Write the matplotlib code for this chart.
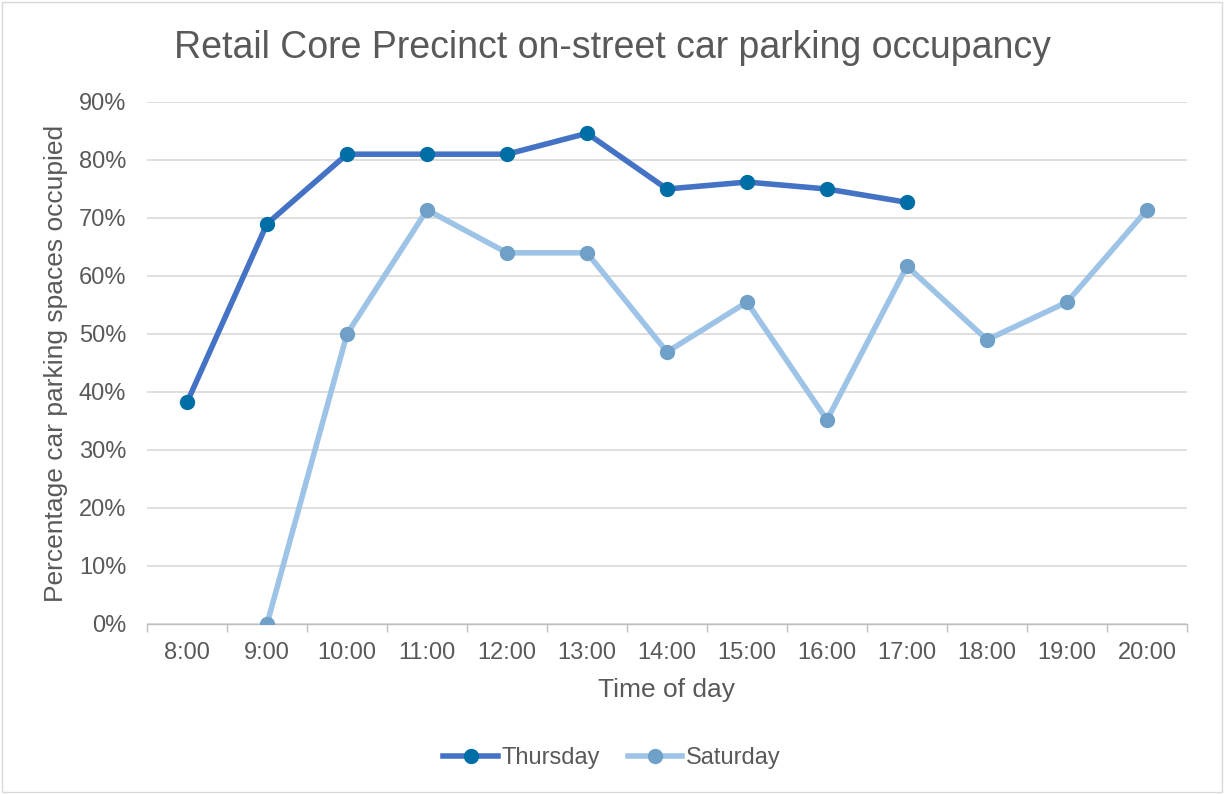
import matplotlib
matplotlib.use("Agg")
import matplotlib.pyplot as plt
from matplotlib.ticker import FuncFormatter, FixedLocator
import matplotlib.patches as mpatches

times = ["8:00", "9:00", "10:00", "11:00", "12:00", "13:00", "14:00",
         "15:00", "16:00", "17:00", "18:00", "19:00", "20:00"]
thursday = [0.382, 0.690, 0.810, 0.810, 0.810, 0.846, 0.750, 0.762, 0.750, 0.727]
saturday = [None, 0.0, 0.500, 0.714, 0.640, 0.640, 0.469, 0.555, 0.352, 0.617, 0.490, 0.555, 0.714]
yticks = [0, 0.1, 0.2, 0.3, 0.4, 0.5, 0.6, 0.7, 0.8, 0.9]

plt.rcParams['font.family'] = ['Liberation Sans', 'DejaVu Sans']
text_color = "#595959"

fig = plt.figure(figsize=(12.24, 7.94), dpi=100)
fig.patches.append(mpatches.Rectangle((0.002, 0.002), 0.996, 0.996, transform=fig.transFigure,
                                      fill=False, edgecolor="#d9d9d9", linewidth=1))
ax = fig.add_axes([147/1224, 1-624/794, 1040/1224, 522/794])

x_th = list(range(len(thursday)))
sat_x = [i for i, v in enumerate(saturday) if v is not None]
sat_y = [v for v in saturday if v is not None]

ax.plot(x_th, thursday, color="#4472c4", linewidth=4, marker='o', markersize=10,
        markerfacecolor="#006ea6", markeredgecolor="#006ea6", label="Thursday", zorder=4)
ax.plot(sat_x, sat_y, color="#9dc3e6", linewidth=4, marker='o', markersize=10,
        markerfacecolor="#6fa0c8", markeredgecolor="#6fa0c8", label="Saturday", zorder=3)

ax.set_xlim(-0.5, len(times) - 0.5)
ax.set_ylim(0, 0.9)
ax.set_yticks(yticks)
ax.yaxis.set_major_formatter(FuncFormatter(lambda v, p: f"{v*100:.0f}%"))
ax.set_xticks(range(len(times)))
ax.set_xticklabels(times)
ax.xaxis.set_minor_locator(FixedLocator([i - 0.5 for i in range(len(times) + 1)]))
ax.tick_params(axis='x', which='major', length=0, labelsize=17, colors=text_color, pad=13)
ax.tick_params(axis='x', which='minor', length=6, color="#bfbfbf", width=1)
ax.tick_params(axis='y', length=0, labelsize=17, colors=text_color, pad=15)
ax.grid(axis='y', color="#d9d9d9", linewidth=1.2)
ax.set_axisbelow(True)
for s in ['top', 'right', 'left']:
    ax.spines[s].set_visible(False)
ax.spines['bottom'].set_color("#bfbfbf")
ax.spines['bottom'].set_linewidth(1)

ax.set_xlabel("Time of day", fontsize=19, color=text_color, labelpad=10)
ax.set_ylabel("Percentage car parking spaces occupied", fontsize=19, color=text_color, labelpad=8)
fig.text(0.5, 1-48/794, "Retail Core Precinct on-street car parking occupancy",
         ha='center', va='center', fontsize=27, color=text_color)

leg = fig.legend(loc='center', bbox_to_anchor=(0.5, 1-758/794), ncol=2, frameon=False,
                 fontsize=17, handlelength=2.3, handletextpad=0.15, columnspacing=1.2)
for t in leg.get_texts():
    t.set_color(text_color)

fig.savefig("out.png", dpi=100)
